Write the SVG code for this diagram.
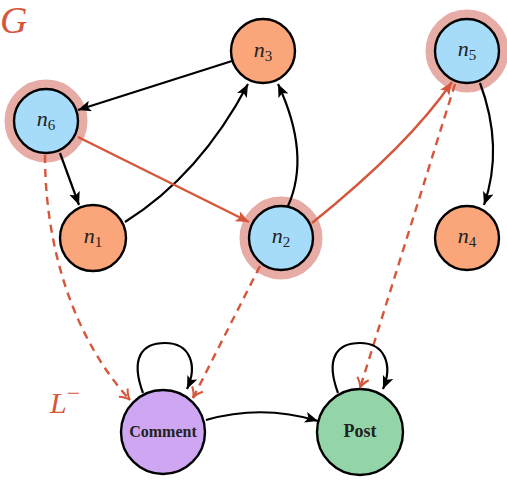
<svg xmlns="http://www.w3.org/2000/svg" width="507" height="483" viewBox="0 0 507 483">
<style>
.node{stroke:#000;stroke-width:2.4}
.blue{fill:#a6dcfa}.orange{fill:#fba67a}.purple{fill:#cea6f1}.green{fill:#93d5a8}
.halo{fill:none;stroke:#e6aca5;stroke-width:9}
.lbl{font-family:"Liberation Serif",serif;font-style:italic;font-size:22px;fill:#222}
.sub{font-style:normal;font-size:15px}
.bold{font-family:"Liberation Serif",serif;font-weight:bold;fill:#222}
.e{fill:none;stroke:#000;stroke-width:2.2}
.r{fill:none;stroke:#d6563c;stroke-width:2.4}
.d{fill:none;stroke:#d6563c;stroke-width:2.4;stroke-dasharray:8 6}
.big{font-family:"Liberation Serif",serif;font-style:italic;fill:#d6563c}
</style>
<defs>
<marker id="ab" markerUnits="userSpaceOnUse" markerWidth="14" markerHeight="12" refX="13" refY="5.5" orient="auto">
<path d="M0,0 L13,5.5 L0,11 L3,5.5 z" fill="#000"/>
</marker>
<marker id="ar" markerUnits="userSpaceOnUse" markerWidth="14" markerHeight="12" refX="13" refY="5.5" orient="auto">
<path d="M0,0 L13,5.5 L0,11 L3,5.5 z" fill="#d6563c"/>
</marker>
<marker id="ao" markerUnits="userSpaceOnUse" markerWidth="14" markerHeight="14" refX="11" refY="7" orient="auto">
<path d="M1,1 Q6,6 11,7 Q6,8 1,13" fill="none" stroke="#d6563c" stroke-width="2"/>
</marker>
</defs>
<text class="big" x="0" y="33" font-size="38">G</text>
<text class="big" x="50" y="413" font-size="30">L<tspan font-size="24" dy="-12" font-style="normal">−</tspan></text>
<g id="n3"><circle class="node orange" cx="263" cy="51" r="32"/><text class="lbl" x="263" y="57" text-anchor="middle">n<tspan class="sub" dy="4">3</tspan></text></g>
<g id="n6"><circle class="halo" cx="46" cy="121" r="37"/><circle class="node blue" cx="46" cy="121" r="32"/><text class="lbl" x="46" y="126" text-anchor="middle">n<tspan class="sub" dy="4">6</tspan></text></g>
<g id="n1"><circle class="node orange" cx="93" cy="238" r="33"/><text class="lbl" x="93" y="243" text-anchor="middle">n<tspan class="sub" dy="4">1</tspan></text></g>
<g id="n2"><circle class="halo" cx="281" cy="238" r="37"/><circle class="node blue" cx="281" cy="238" r="32"/><text class="lbl" x="281" y="243" text-anchor="middle">n<tspan class="sub" dy="4">2</tspan></text></g>
<g id="n5"><circle class="halo" cx="467" cy="51" r="37"/><circle class="node blue" cx="467" cy="51" r="32"/><text class="lbl" x="467" y="56" text-anchor="middle">n<tspan class="sub" dy="4">5</tspan></text></g>
<g id="n4"><circle class="node orange" cx="467" cy="238" r="32"/><text class="lbl" x="467" y="243" text-anchor="middle">n<tspan class="sub" dy="4">4</tspan></text></g>
<g id="comment"><circle class="node purple" cx="163" cy="432" r="42"/><text class="bold" x="163" y="437" font-size="16" text-anchor="middle">Comment</text></g>
<g id="post"><circle class="node green" cx="360" cy="432" r="43"/><text class="bold" x="360" y="437" font-size="18" text-anchor="middle">Post</text></g>
<g id="edges">
<path class="e" d="M232,61 L78,110" marker-end="url(#ab)"/>
<path class="e" d="M60,153 L79,205" marker-end="url(#ab)"/>
<path class="e" d="M125,222 Q200,175 248,84" marker-end="url(#ab)"/>
<path class="e" d="M288,206 Q311,155 278,84" marker-end="url(#ab)"/>
<path class="e" d="M480,83 Q504,147 484,205" marker-end="url(#ab)"/>
<path class="r" d="M78,137 L249,222" marker-end="url(#ar)"/>
<path class="r" d="M312,223 Q409,145 452,82" marker-end="url(#ar)"/>
<path class="d" d="M45,155 C45,250 75,340 130,400" marker-end="url(#ao)"/>
<path class="d" d="M260,266 L193,398" marker-end="url(#ao)"/>
<path class="d" d="M455,84 L360,388" marker-end="url(#ao)"/>
<path class="e" d="M143,393 C130,358 142,343 165,343 C190,343 198,365 187,389" marker-end="url(#ab)"/>
<path class="e" d="M338,393 C325,358 337,343 360,343 C385,343 393,365 383,389" marker-end="url(#ab)"/>
<path class="e" d="M206,420 Q262,404 318,421" marker-end="url(#ab)"/>
</g>
</svg>
